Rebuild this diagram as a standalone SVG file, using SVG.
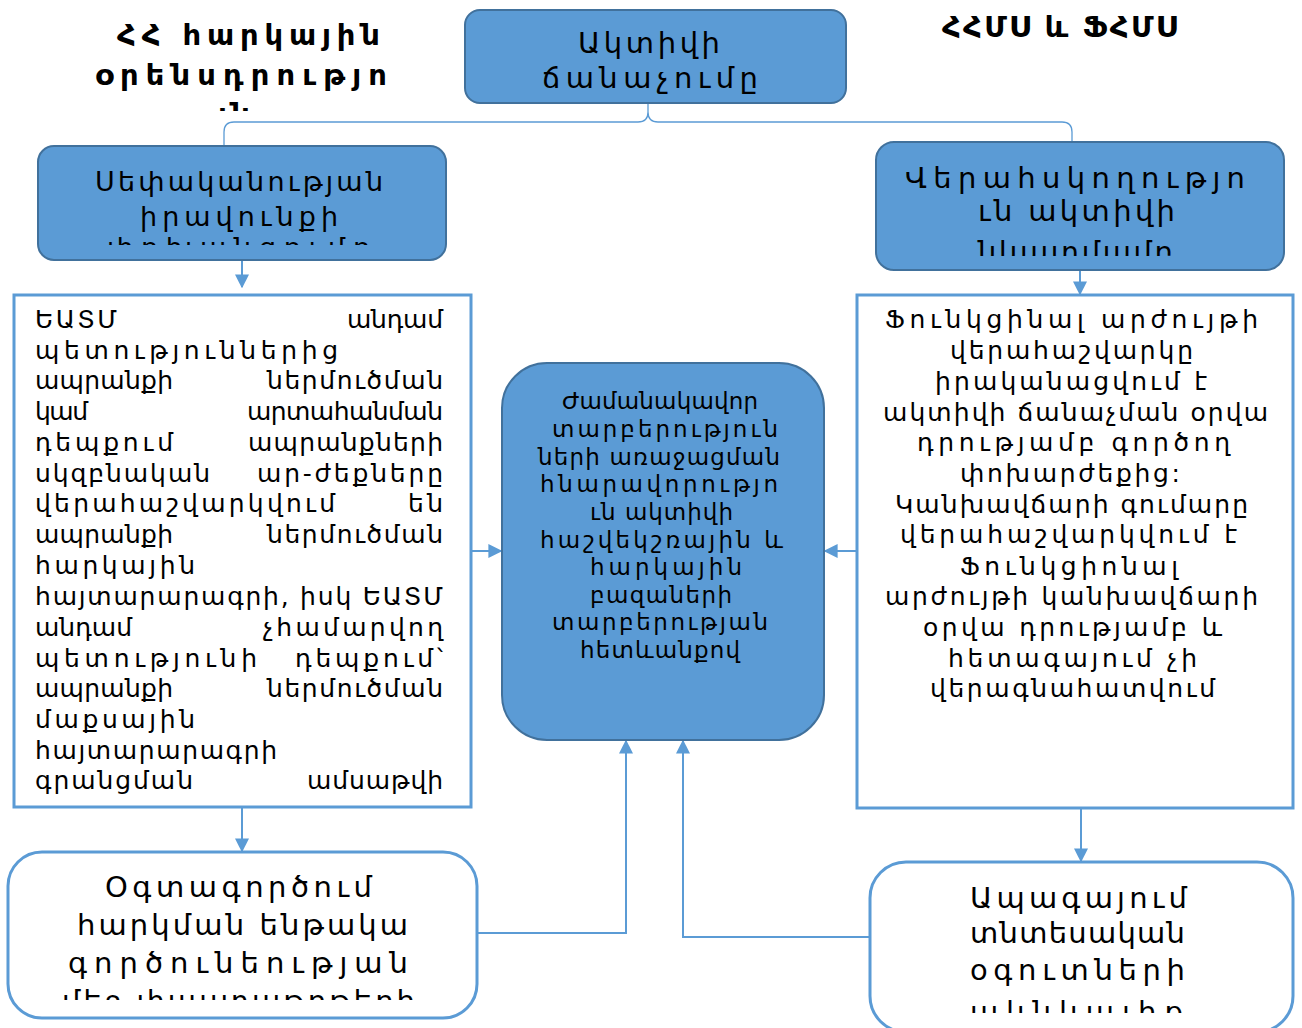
<svg xmlns="http://www.w3.org/2000/svg" width="1302" height="1028" viewBox="0 0 1302 1028">
<style>
.t{font-family:"DejaVu Sans",sans-serif;fill:#000}
.hd{font-size:29px;font-weight:bold}
.bx{font-size:29px}
.b1{font-size:27px}
.bd{font-size:25px}
.cn{font-size:23px}
.blue{fill:#5B9BD5;stroke:#41719C;stroke-width:2}
.white{fill:#fff;stroke:#5B9BD5;stroke-width:3}
.con{fill:none;stroke:#5B9BD5;stroke-width:2}
.thin{fill:none;stroke:#5B9BD5;stroke-width:1.3}
</style>
<defs>
<marker id="ah" markerUnits="userSpaceOnUse" markerWidth="14" markerHeight="14" viewBox="0 0 10 10" refX="9" refY="5" orient="auto">
<path d="M0,0 L10,5 L0,10 Z" fill="#5B9BD5"/>
</marker>
<clipPath id="c1"><rect x="0" y="0" width="460" height="111"/></clipPath>
<clipPath id="c2"><rect x="38" y="146" width="408" height="99"/></clipPath>
<clipPath id="c3"><rect x="876" y="142" width="408" height="114"/></clipPath>
<clipPath id="c4"><rect x="0" y="850" width="480" height="150"/></clipPath>
<clipPath id="c5"><rect x="860" y="860" width="440" height="153"/></clipPath>
</defs>

<g id="header-left" clip-path="url(#c1)">
<text class="t hd" x="117" y="45" textLength="263" lengthAdjust="spacing">ՀՀ հարկային</text>
<text class="t hd" x="95" y="85" textLength="292" lengthAdjust="spacing">օրենսդրությո</text>
<text class="t hd" x="218" y="124" textLength="32" lengthAdjust="spacing">ւն</text>
</g>

<g id="header-right">
<text class="t hd" x="942" y="37" textLength="235" lengthAdjust="spacing">ՀՀՄՍ և ՖՀՄՍ</text>
</g>

<g id="connectors">
<path class="thin" d="M224 147 V132 Q224 122 234 122 H638 Q648 122 648 112 V104 M648 112 Q648 122 658 122 H1062 Q1072 122 1072 132 V142"/>
<path class="con" d="M242 260 V287" marker-end="url(#ah)"/>
<path class="con" d="M1080 270 V294" marker-end="url(#ah)"/>
<path class="con" d="M242 808 V851" marker-end="url(#ah)"/>
<path class="con" d="M1081 809 V861" marker-end="url(#ah)"/>
<path class="con" d="M472 551 H501" marker-end="url(#ah)"/>
<path class="con" d="M857 551 H825" marker-end="url(#ah)"/>
<path class="con" d="M477 933 H626 V741" marker-end="url(#ah)"/>
<path class="con" d="M870 937 H683 V741" marker-end="url(#ah)"/>
</g>

<g id="node-top">
<rect class="blue" x="465" y="10" width="381" height="93" rx="15"/>
<text class="t bx" x="578" y="53" textLength="142" lengthAdjust="spacing">Ակտիվի</text>
<text class="t bx" x="542" y="88" textLength="216" lengthAdjust="spacing">ճանաչումը</text>
</g>

<g id="node-ownership">
<rect class="blue" x="38" y="146" width="408" height="114" rx="16"/>
<g clip-path="url(#c2)">
<text class="t b1" x="95" y="191" textLength="288" lengthAdjust="spacing">Սեփականության</text>
<text class="t b1" x="140" y="226" textLength="198" lengthAdjust="spacing">իրավունքի</text>
<text class="t b1" x="107" y="257" textLength="263" lengthAdjust="spacing">փոխանցումը</text>
</g>
</g>

<g id="node-control">
<rect class="blue" x="876" y="142" width="408" height="128" rx="18"/>
<g clip-path="url(#c3)">
<text class="t bx" x="905" y="188" textLength="340" lengthAdjust="spacing">Վերահսկողությո</text>
<text class="t bx" x="978" y="221" textLength="197" lengthAdjust="spacing">ւն ակտիվի</text>
<text class="t bx" x="978" y="262" textLength="195" lengthAdjust="spacing">նկատմամբ</text>
</g>
</g>

<g id="node-left-text">
<rect class="white" x="14" y="295" width="457" height="512"/>
<text class="t bd" x="35" y="328" textLength="82" lengthAdjust="spacing">ԵԱՏՄ</text>
<text class="t bd" x="347" y="328" textLength="96" lengthAdjust="spacing">անդամ</text>
<text class="t bd" x="35" y="359" textLength="303" lengthAdjust="spacing">պետություններից</text>
<text class="t bd" x="35" y="389" textLength="138" lengthAdjust="spacing">ապրանքի</text>
<text class="t bd" x="267" y="389" textLength="176" lengthAdjust="spacing">ներմուծման</text>
<text class="t bd" x="35" y="420" textLength="53" lengthAdjust="spacing">կամ</text>
<text class="t bd" x="247" y="420" textLength="196" lengthAdjust="spacing">արտահանման</text>
<text class="t bd" x="35" y="451" textLength="138" lengthAdjust="spacing">դեպքում</text>
<text class="t bd" x="248" y="451" textLength="195" lengthAdjust="spacing">ապրանքների</text>
<text class="t bd" x="35" y="482" textLength="175" lengthAdjust="spacing">սկզբնական</text>
<text class="t bd" x="257" y="482" textLength="186" lengthAdjust="spacing">ար-ժեքները</text>
<text class="t bd" x="35" y="512" textLength="300" lengthAdjust="spacing">վերահաշվարկվում</text>
<text class="t bd" x="408" y="512" textLength="35" lengthAdjust="spacing">են</text>
<text class="t bd" x="35" y="543" textLength="138" lengthAdjust="spacing">ապրանքի</text>
<text class="t bd" x="267" y="543" textLength="176" lengthAdjust="spacing">ներմուծման</text>
<text class="t bd" x="35" y="574" textLength="160" lengthAdjust="spacing">հարկային</text>
<text class="t bd" x="35" y="605" textLength="408" lengthAdjust="spacing">հայտարարագրի, իսկ ԵԱՏՄ</text>
<text class="t bd" x="35" y="636" textLength="97" lengthAdjust="spacing">անդամ</text>
<text class="t bd" x="263" y="636" textLength="180" lengthAdjust="spacing">չհամարվող</text>
<text class="t bd" x="35" y="667" textLength="222" lengthAdjust="spacing">պետությունի</text>
<text class="t bd" x="295" y="667" textLength="148" lengthAdjust="spacing">դեպքում՝</text>
<text class="t bd" x="35" y="697" textLength="138" lengthAdjust="spacing">ապրանքի</text>
<text class="t bd" x="267" y="697" textLength="176" lengthAdjust="spacing">ներմուծման</text>
<text class="t bd" x="35" y="728" textLength="160" lengthAdjust="spacing">մաքսային</text>
<text class="t bd" x="35" y="759" textLength="242" lengthAdjust="spacing">հայտարարագրի</text>
<text class="t bd" x="35" y="789" textLength="158" lengthAdjust="spacing">գրանցման</text>
<text class="t bd" x="307" y="789" textLength="136" lengthAdjust="spacing">ամսաթվի</text>
</g>

<g id="node-center">
<rect class="blue" x="502" y="363" width="322" height="377" rx="45"/>
<text class="t cn" x="562" y="409" textLength="196" lengthAdjust="spacing">Ժամանակավոր</text>
<text class="t cn" x="552" y="437" textLength="226" lengthAdjust="spacing">տարբերություն</text>
<text class="t cn" x="538" y="465" textLength="242" lengthAdjust="spacing">ների առաջացման</text>
<text class="t cn" x="540" y="492" textLength="238" lengthAdjust="spacing">հնարավորությո</text>
<text class="t cn" x="590" y="520" textLength="143" lengthAdjust="spacing">ւն ակտիվի</text>
<text class="t cn" x="540" y="548" textLength="243" lengthAdjust="spacing">հաշվեկշռային և</text>
<text class="t cn" x="590" y="575" textLength="152" lengthAdjust="spacing">հարկային</text>
<text class="t cn" x="590" y="603" textLength="142" lengthAdjust="spacing">բազաների</text>
<text class="t cn" x="552" y="630" textLength="216" lengthAdjust="spacing">տարբերության</text>
<text class="t cn" x="580" y="658" textLength="160" lengthAdjust="spacing">հետևանքով</text>
</g>

<g id="node-right-text">
<rect class="white" x="857" y="295" width="436" height="513"/>
<text class="t bd" x="885" y="328" textLength="373" lengthAdjust="spacing">Ֆունկցինալ արժույթի</text>
<text class="t bd" x="950" y="359" textLength="243" lengthAdjust="spacing">վերահաշվարկը</text>
<text class="t bd" x="935" y="390" textLength="272" lengthAdjust="spacing">իրականացվում է</text>
<text class="t bd" x="883" y="421" textLength="385" lengthAdjust="spacing">ակտիվի ճանաչման օրվա</text>
<text class="t bd" x="917" y="451" textLength="313" lengthAdjust="spacing">դրությամբ գործող</text>
<text class="t bd" x="960" y="482" textLength="220" lengthAdjust="spacing">փոխարժեքից:</text>
<text class="t bd" x="895" y="513" textLength="353" lengthAdjust="spacing">Կանխավճարի գումարը</text>
<text class="t bd" x="900" y="543" textLength="337" lengthAdjust="spacing">վերահաշվարկվում է</text>
<text class="t bd" x="960" y="575" textLength="218" lengthAdjust="spacing">Ֆունկցիոնալ</text>
<text class="t bd" x="885" y="605" textLength="373" lengthAdjust="spacing">արժույթի կանխավճարի</text>
<text class="t bd" x="923" y="636" textLength="299" lengthAdjust="spacing">օրվա դրությամբ և</text>
<text class="t bd" x="948" y="667" textLength="249" lengthAdjust="spacing">հետագայում չի</text>
<text class="t bd" x="930" y="697" textLength="285" lengthAdjust="spacing">վերագնահատվում</text>
</g>

<g id="node-usage">
<rect class="white" x="8" y="852" width="469" height="166" rx="34"/>
<g clip-path="url(#c4)">
<text class="t bx" x="105" y="897" textLength="267" lengthAdjust="spacing">Օգտագործում</text>
<text class="t bx" x="77" y="935" textLength="331" lengthAdjust="spacing">հարկման ենթակա</text>
<text class="t bx" x="68" y="973" textLength="340" lengthAdjust="spacing">գործունեության</text>
<text class="t bx" x="62" y="1011" textLength="353" lengthAdjust="spacing">մեջ փաստաթղթերի</text>
</g>
</g>

<g id="node-future">
<rect class="white" x="870" y="862" width="423" height="170" rx="36"/>
<g clip-path="url(#c5)">
<text class="t bx" x="970" y="908" textLength="217" lengthAdjust="spacing">Ապագայում</text>
<text class="t bx" x="970" y="943" textLength="215" lengthAdjust="spacing">տնտեսական</text>
<text class="t bx" x="970" y="980" textLength="215" lengthAdjust="spacing">օգուտների</text>
<text class="t bx" x="970" y="1022" textLength="213" lengthAdjust="spacing">ակնկալիք</text>
</g>
</g>
</svg>
